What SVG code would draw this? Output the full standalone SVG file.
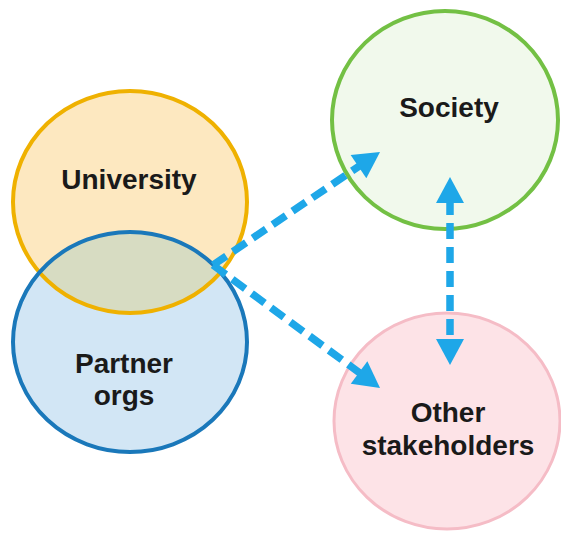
<svg xmlns="http://www.w3.org/2000/svg" width="561" height="533" viewBox="0 0 561 533">
<style>
.lbl{font-family:"Liberation Sans",Arial,sans-serif;font-weight:bold;font-size:28px;fill:#1a1a1a;text-anchor:middle}
.conn{fill:none;stroke:#1ea7e8;stroke-width:7.5;stroke-dasharray:16 8}
</style>
<defs>
<marker id="ah" markerUnits="userSpaceOnUse" markerWidth="28" markerHeight="28" refX="4" refY="14" orient="auto-start-reverse" viewBox="0 0 26 28">
<path d="M0,0 L26,14 L0,28 z" fill="#1ea7e8"/>
</marker>
<clipPath id="uniClip"><ellipse cx="130" cy="202" rx="117" ry="111"/></clipPath>
</defs>
<rect width="561" height="533" fill="#ffffff"/>
<g id="university">
<ellipse cx="130" cy="202" rx="117" ry="111" fill="#fde8c0"/>
</g>
<g id="partner-orgs">
<ellipse cx="130" cy="342" rx="117" ry="110" fill="#d2e6f5"/>
<ellipse cx="130" cy="342" rx="117" ry="110" fill="#d7dcc2" clip-path="url(#uniClip)"/>
<ellipse cx="130" cy="202" rx="117" ry="111" fill="none" stroke="#efb100" stroke-width="4"/>
<ellipse cx="130" cy="342" rx="117" ry="110" fill="none" stroke="#1a78ba" stroke-width="4"/>
<text class="lbl" x="124" y="373">Partner</text>
<text class="lbl" x="124" y="405">orgs</text>
</g>
<text class="lbl" x="129" y="189">University</text>
<g id="society">
<ellipse cx="445" cy="120" rx="113" ry="109" fill="#f1f9ec" stroke="#73c044" stroke-width="4"/>
<text class="lbl" x="449" y="117">Society</text>
</g>
<g id="other-stakeholders">
<ellipse cx="447" cy="421" rx="113" ry="108" fill="#fde3e7" stroke="#f5bcc6" stroke-width="3"/>
<text class="lbl" x="448" y="422">Other</text>
<text class="lbl" x="448" y="455">stakeholders</text>
</g>
<g id="connectors">
<path class="conn" d="M213,265 L361.8,164.3" marker-end="url(#ah)"/>
<path class="conn" d="M213,265 L362.3,374.9" marker-end="url(#ah)"/>
<path class="conn" d="M450,199 L450,343" marker-start="url(#ah)" marker-end="url(#ah)"/>
</g>
</svg>
